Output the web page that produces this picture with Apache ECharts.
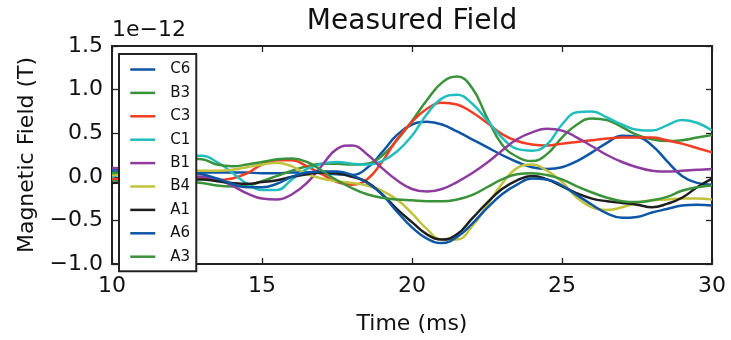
<!DOCTYPE html>
<html>
<head>
<meta charset="utf-8">
<title>Measured Field</title>
<script src="https://cdn.jsdelivr.net/npm/echarts@6/dist/echarts.min.js"></script>
<style>
  html, body { margin: 0; padding: 0; background: #fff; }
  #chart { width: 731px; height: 340px; }
</style>
</head>
<body>
<div id="chart"></div>
<script>
// Sample times (ms)
const timeMs = [10, 10.5, 11, 11.5, 12, 12.5, 13, 13.5, 14, 14.5, 15, 15.5, 16, 16.5, 17, 17.5, 18, 18.5, 19, 19.5,
  20, 20.5, 21, 21.5, 22, 22.5, 23, 23.5, 24, 24.5, 25, 25.5, 26, 26.5, 27, 27.5, 28, 28.5, 29, 29.5, 30];

// Field per sensor, in units of 1e-12 T
const C6 = [0.09, 0.08, 0.07, 0.06, 0.06, 0.05, 0.05, 0.05, 0.05, 0.05, 0.04, 0.04, 0.05, 0.05, 0.04, 0.03, 0.02, 0.10, 0.28, 0.48,
  0.60, 0.63, 0.60, 0.52, 0.43, 0.34, 0.25, 0.17, 0.11, 0.09, 0.11, 0.18, 0.28, 0.39, 0.47, 0.46, 0.36, 0.18, 0.01, -0.07, -0.09];
const B3 = [-0.04, -0.03, -0.03, -0.04, -0.05, -0.06, -0.07, -0.10, -0.11, -0.10, -0.05, 0.01, 0.07, 0.12, 0.15, 0.15, 0.14, 0.15, 0.24, 0.42,
  0.64, 0.88, 1.08, 1.15, 1.02, 0.68, 0.37, 0.23, 0.18, 0.26, 0.45, 0.60, 0.67, 0.65, 0.57, 0.48, 0.43, 0.41, 0.42, 0.45, 0.48];
const C3 = [-0.02, -0.03, -0.03, -0.02, -0.01, 0.00, -0.01, -0.04, -0.02, 0.04, 0.14, 0.19, 0.19, 0.12, 0.03, -0.06, -0.09, -0.03, 0.17, 0.43,
  0.63, 0.78, 0.85, 0.83, 0.74, 0.62, 0.49, 0.41, 0.37, 0.36, 0.38, 0.40, 0.42, 0.44, 0.45, 0.45, 0.45, 0.42, 0.38, 0.33, 0.28];
const C1 = [0.00, 0.05, 0.10, 0.16, 0.21, 0.24, 0.24, 0.17, 0.05, -0.08, -0.15, -0.15, -0.03, 0.09, 0.15, 0.17, 0.15, 0.14, 0.18, 0.29,
  0.47, 0.72, 0.90, 0.94, 0.84, 0.65, 0.45, 0.32, 0.30, 0.37, 0.60, 0.74, 0.75, 0.68, 0.60, 0.54, 0.53, 0.59, 0.65, 0.62, 0.53];
const B1 = [0.10, 0.09, 0.07, 0.05, 0.03, 0.01, 0.00, -0.03, -0.10, -0.19, -0.25, -0.26, -0.20, -0.07, 0.13, 0.32, 0.36, 0.26, 0.10, -0.04,
  -0.14, -0.17, -0.14, -0.06, 0.04, 0.16, 0.30, 0.43, 0.51, 0.55, 0.53, 0.45, 0.35, 0.25, 0.17, 0.11, 0.07, 0.06, 0.07, 0.08, 0.09];
const B4 = [0.02, 0.03, 0.04, 0.05, 0.06, 0.07, 0.07, 0.07, 0.08, 0.11, 0.14, 0.16, 0.12, 0.03, -0.02, -0.05, -0.07, -0.10, -0.16, -0.26,
  -0.42, -0.60, -0.72, -0.72, -0.57, -0.33, -0.08, 0.10, 0.14, 0.07, -0.06, -0.24, -0.35, -0.38, -0.35, -0.30, -0.27, -0.26, -0.25, -0.25, -0.26];
const A1 = [-0.07, -0.06, -0.05, -0.04, -0.03, -0.03, -0.03, -0.05, -0.07, -0.08, -0.06, -0.04, 0.00, 0.03, 0.05, 0.04, 0.00, -0.06, -0.20, -0.37,
  -0.52, -0.66, -0.72, -0.66, -0.48, -0.30, -0.14, -0.04, 0.01, -0.03, -0.11, -0.19, -0.25, -0.28, -0.30, -0.32, -0.35, -0.31, -0.24, -0.12, -0.02];
const A6 = [0.06, 0.06, 0.06, 0.06, 0.05, 0.05, 0.03, -0.02, -0.08, -0.12, -0.12, -0.08, 0.00, 0.05, 0.06, 0.06, 0.02, -0.07, -0.20, -0.40,
  -0.58, -0.71, -0.76, -0.69, -0.54, -0.36, -0.20, -0.09, -0.02, -0.03, -0.10, -0.21, -0.32, -0.42, -0.47, -0.46, -0.41, -0.37, -0.33, -0.32, -0.33];
const A3 = [0.04, 0.06, 0.09, 0.13, 0.17, 0.21, 0.20, 0.14, 0.12, 0.14, 0.17, 0.20, 0.21, 0.17, 0.07, -0.04, -0.13, -0.20, -0.24, -0.26,
  -0.27, -0.28, -0.28, -0.26, -0.21, -0.12, -0.03, 0.03, 0.04, 0.02, -0.03, -0.11, -0.18, -0.24, -0.28, -0.29, -0.27, -0.23, -0.16, -0.12, -0.10];

const sensorNames = ['C6', 'B3', 'C3', 'C1', 'B1', 'B4', 'A1', 'A6', 'A3'];
const sensorValues = [C6, B3, C3, C1, B1, B4, A1, A6, A3];
const sensorColors = ['#0d56a6', '#3a923a', '#f23d22', '#22bdbd', '#8e3b9e', '#c2c23c', '#1e1e1e', '#0d56a6', '#3a923a'];

const xTicks = [10, 15, 20, 25, 30];
const yTicks = [-1.0, -0.5, 0.0, 0.5, 1.0, 1.5];

const FONT = 'DejaVu Sans';
const INK = '#222';
const TEXT = '#111';

function fmtTick(v) {
  return v.toFixed(1).replace('-', '\u2212');
}

const chart = echarts.init(document.getElementById('chart'), null, { renderer: 'canvas' });

const series = sensorNames.map((name, i) => ({
  name: name,
  type: 'line',
  xAxisIndex: 0,
  yAxisIndex: 0,
  smooth: 0.45,
  symbol: 'none',
  lineStyle: { width: 2.5, color: sensorColors[i] },
  itemStyle: { color: sensorColors[i] },
  z: 2 + i * 0.01,
  data: timeMs.map((t, k) => [t, sensorValues[i][k]])
}));

const tickStyle = { show: true, inside: true, length: 6, lineStyle: { color: INK, width: 1.3 } };
const hiddenLine = { show: false, onZero: false };

chart.setOption({
  animation: false,
  backgroundColor: '#fff',
  grid: {
    left: 112, right: 19, top: 46, bottom: 71,
    show: true, borderColor: INK, borderWidth: 2, backgroundColor: 'transparent'
  },
  legend: {
    orient: 'vertical',
    left: 119, top: 54,
    padding: [8, 6, 7, 10],
    itemWidth: 25, itemHeight: 14, itemGap: 8.4,
    backgroundColor: '#fff',
    borderColor: INK, borderWidth: 2, borderRadius: 0,
    z: 10,
    data: sensorNames,
    itemStyle: { opacity: 0 },
    lineStyle: { width: 2.5 },
    textStyle: { fontFamily: FONT, fontSize: 15, color: TEXT, padding: [0, 0, 0, 10] }
  },
  graphic: [
    { type: 'text', x: 412, y: 22, z: 20,
      style: { text: 'Measured Field', fontFamily: FONT, fontSize: 28, fill: TEXT, textAlign: 'center', textVerticalAlign: 'middle' } },
    { type: 'text', x: 112, y: 30, z: 20,
      style: { text: '1e\u221212', fontFamily: FONT, fontSize: 22, fill: TEXT, textAlign: 'left', textVerticalAlign: 'middle' } }
  ],
  xAxis: [
    {
      type: 'value', min: 10, max: 30, interval: 5, position: 'bottom',
      name: 'Time (ms)', nameLocation: 'middle', nameGap: 49,
      nameTextStyle: { fontFamily: FONT, fontSize: 22, color: TEXT },
      axisLine: hiddenLine,
      axisTick: tickStyle,
      splitLine: { show: false },
      axisLabel: {
        fontFamily: FONT, fontSize: 22, color: TEXT, margin: 11,
        formatter: v => (xTicks.indexOf(v) >= 0 ? String(v) : '')
      }
    },
    {
      type: 'value', min: 10, max: 30, interval: 5, position: 'top',
      axisLine: hiddenLine, axisTick: tickStyle, axisLabel: { show: false }, splitLine: { show: false }
    }
  ],
  yAxis: [
    {
      type: 'value', min: -1.0, max: 1.5, interval: 0.5, position: 'left',
      name: 'Magnetic Field (T)', nameLocation: 'middle', nameGap: 74, nameRotate: 90,
      nameTextStyle: { fontFamily: FONT, fontSize: 22, color: TEXT },
      axisLine: hiddenLine,
      axisTick: tickStyle,
      splitLine: { show: false },
      axisLabel: {
        fontFamily: FONT, fontSize: 22, color: TEXT, margin: 9,
        formatter: v => {
          const hit = yTicks.find(t => Math.abs(t - v) < 1e-9);
          return hit === undefined ? '' : fmtTick(hit);
        }
      }
    },
    {
      type: 'value', min: -1.0, max: 1.5, interval: 0.5, position: 'right',
      axisLine: hiddenLine, axisTick: tickStyle, axisLabel: { show: false }, splitLine: { show: false }
    }
  ],
  series: series
});
</script>
</body>
</html>
